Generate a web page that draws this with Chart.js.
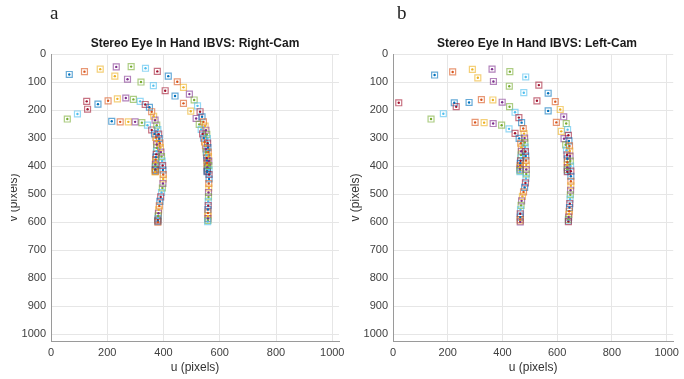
<!DOCTYPE html>
<html>
<head>
<meta charset="utf-8">
<script src="https://cdn.jsdelivr.net/npm/chart.js@4.4.1/dist/chart.umd.min.js"></script>
<style>
  body { margin: 0; background: #fff; width: 684px; height: 379px; overflow: hidden; position: relative; font-family: 'Liberation Sans', Arial, sans-serif; }
  .panel { position: absolute; top: 0; height: 379px; }
  canvas { display: block; }
  .tag { position: absolute; top: 2px; font-family: 'Liberation Serif', 'Times New Roman', serif; font-size: 19px; line-height: 22px; color: #222; }
  .ttl { position: absolute; top: 36px; width: 288px; text-align: center; font-weight: bold; font-size: 12px; line-height: 14px; color: #1a1a1a; white-space: nowrap; }
  .crop { position: absolute; left: 0; top: 120px; width: 11px; height: 120px; background: #fff; }
</style>
</head>
<body>
<div class="panel" style="left:0;width:352px"><canvas id="rightCam" width="352" height="379"></canvas></div>
<div class="panel" style="left:342px;width:342px"><canvas id="leftCam" width="342" height="379"></canvas></div>
<div class="crop"></div>
<div class="tag" style="left:50px">a</div>
<div class="tag" style="left:397px">b</div>
<div class="ttl" style="left:51px">Stereo Eye In Hand IBVS: Right-Cam</div>
<div class="ttl" style="left:393px">Stereo Eye In Hand IBVS: Left-Cam</div>

<script>
// ticks
const uTicks = [0, 200, 400, 600, 800, 1000];
const vTicks = [0, 100, 200, 300, 400, 500, 600, 700, 800, 900, 1000];

// Right-Cam: 4 feature trajectories (u, v in pixels)
const rcamAU = [65,119,175,232,285,336,378,417,449,471,492,509,521,530,537,542,548,551,554,556,557,558,559,560,561,561,562,562,562,561,561,560,560,559,559,558,558,558,558,558,557];
const rcamAV = [73,63,54,46,45,51,62,79,99,119,143,164,185,206,224,242,257,272,287,302,318,334,350,366,382,398,414,430,446,462,478,494,510,526,541,555,567,578,587,594,598];
const rcamBU = [227,272,320,364,406,441,471,497,516,527,534,539,543,546,549,551,552,553,554,555,555,555,556,556,556,555,555];
const rcamBV = [79,90,100,113,131,150,176,204,230,251,269,285,300,314,327,339,350,361,371,380,389,397,404,410,415,418,420];
const rcamCU = [58,94,130,167,203,236,266,293,317,335,350,358,365,370,376,380,383,385,387,389,391,393,395,397,398,399,399,398,396,393,390,387,385,383,382,381,380,380,380,380];
const rcamCV = [232,214,197,179,167,160,157,162,169,180,190,206,222,236,254,270,286,302,318,334,350,366,382,398,414,430,446,462,478,494,510,526,542,556,568,578,587,593,597,600];
const rcamDU = [127,216,246,275,299,323,343,358,368,373,375,376,376,375,374,373,372,372,371,371,371,371,371,371,370];
const rcamDV = [169,240,242,242,242,245,254,271,285,298,311,323,335,347,358,368,377,386,394,401,407,412,416,419,421];

// Left-Cam: 4 feature trajectories
const lcamAU = [152,218,290,362,427,485,533,567,593,611,624,633,638,641,643,645,646,647,648,649,650,650,650,650,649,648,647,646,645,644,643,642,641,641,641];
const lcamAV = [75,64,55,54,63,82,111,140,170,198,224,248,270,290,310,328,346,364,382,400,418,436,454,470,486,502,518,534,548,561,572,582,590,595,598];
const lcamBU = [310,367,425,478,526,567,597,615,625,631,634,636,637,637,637,637,637,637,637];
const lcamBV = [85,98,115,138,167,203,244,276,302,324,343,360,374,386,396,405,412,417,420];
const lcamCU = [139,184,231,278,323,365,399,426,446,460,470,476,479,481,482,483,484,485,486,487,487,487,486,484,481,477,473,470,468,466,465,465,465,465,465];
const lcamCV = [232,213,188,173,163,164,172,188,208,227,245,266,284,300,316,332,348,364,380,396,412,428,444,460,476,492,508,524,540,556,570,582,591,596,599];
const lcamDU = [21,224,300,333,366,397,424,446,461,467,469,469,468,467,466,465,465,464,464,464,464];
const lcamDV = [174,174,244,245,248,254,267,283,301,318,333,347,360,371,381,390,398,405,411,416,420];

// matlab default colour order
const lineColors = ['#0072BD', '#D95319', '#EDB120', '#7E2F8E', '#77AC30', '#4DBEEE', '#A2142F'];
const boxColors = lineColors.map(function(c) {
  const r = parseInt(c.slice(1, 3), 16), g = parseInt(c.slice(3, 5), 16), b = parseInt(c.slice(5, 7), 16);
  return 'rgba(' + r + ',' + g + ',' + b + ',0.6)';
});

function toPoints(us, vs) {
  return us.map(function(u, i) { return { x: u, y: vs[i] }; });
}

function buildDatasets(tracks) {
  const sets = [];
  tracks.forEach(function(t, k) {
    const pts = toPoints(t[0], t[1]);
    const off = k * 2;
    sets.push({
      data: pts,
      order: 2,
      pointStyle: 'rect',
      pointRadius: 4.2,
      pointBorderWidth: 1.2,
      pointBackgroundColor: 'rgba(0,0,0,0)',
      pointBorderColor: function(ctx) { return boxColors[(ctx.dataIndex + off) % 7]; }
    });
    sets.push({
      data: pts,
      order: 1,
      pointStyle: 'circle',
      pointRadius: 1.2,
      pointBorderWidth: 0,
      pointBackgroundColor: function(ctx) { return lineColors[(ctx.dataIndex + off) % 7]; }
    });
  });
  return sets;
}

const tickFont = { family: "'Liberation Sans', Arial, sans-serif", size: 11 };
const titleFont = { family: "'Liberation Sans', Arial, sans-serif", size: 12 };
const plainTick = function(v) { return String(v); };

function makeChart(canvasId, tracks, rightPad) {
  return new Chart(document.getElementById(canvasId), {
    type: 'scatter',
    data: { datasets: buildDatasets(tracks) },
    options: {
      responsive: false,
      animation: false,
      events: [],
      layout: { padding: { left: 0, right: rightPad, top: 54, bottom: 0 } },
      plugins: { legend: { display: false }, tooltip: { enabled: false }, title: { display: false } },
      scales: {
        x: {
          type: 'linear', min: 0, max: 1024,
          afterBuildTicks: function(s) { s.ticks = uTicks.map(function(v) { return { value: v }; }); },
          afterFit: function(s) { s.height = 38; },
          ticks: { color: '#404040', font: tickFont, padding: 5, maxRotation: 0, autoSkip: false, callback: plainTick },
          grid: { color: '#e6e6e6', drawTicks: false },
          border: { color: '#9a9a9a', width: 1 },
          title: { display: true, text: 'u (pixels)', color: '#333', font: titleFont, padding: { top: 0, bottom: 4 } }
        },
        y: {
          type: 'linear', min: 0, max: 1024, reverse: true,
          afterBuildTicks: function(s) { s.ticks = vTicks.map(function(v) { return { value: v }; }); },
          afterFit: function(s) { s.width = 51; },
          ticks: { color: '#404040', font: tickFont, padding: 5, autoSkip: false, callback: plainTick },
          grid: { color: '#e6e6e6', drawTicks: false },
          border: { color: '#9a9a9a', width: 1 },
          title: { display: true, text: 'v (pixels)', color: '#333', font: titleFont, padding: { top: 6, bottom: 0 } }
        }
      }
    }
  });
}

makeChart('rightCam', [[rcamAU, rcamAV], [rcamBU, rcamBV], [rcamCU, rcamCV], [rcamDU, rcamDV]], 13);
makeChart('leftCam', [[lcamAU, lcamAV], [lcamBU, lcamBV], [lcamCU, lcamCV], [lcamDU, lcamDV]], 3);
</script>
</body>
</html>
